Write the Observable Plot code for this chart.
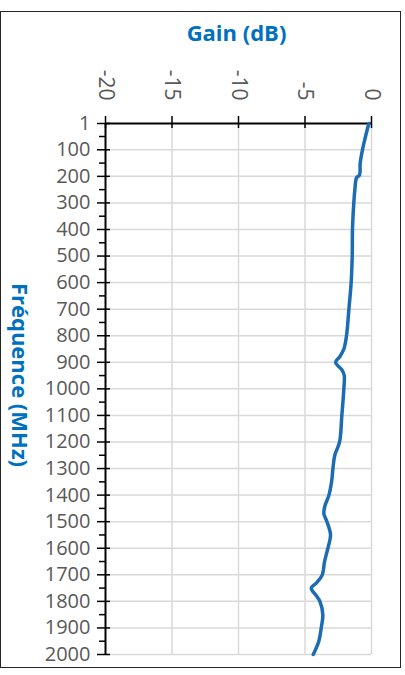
<!DOCTYPE html>
<html>
<head>
<meta charset="utf-8">
<script src="https://cdn.jsdelivr.net/npm/d3@7"></script>
<script src="https://cdn.jsdelivr.net/npm/@observablehq/plot@0.6"></script>
<style>
  html, body { margin: 0; padding: 0; background: #fff; }
  #wrap { position: relative; width: 405px; height: 675px; }
  #border { position: absolute; left: 0; top: 11px; width: 401px; height: 657px;
            border: 1.5px solid #262626; box-sizing: border-box; pointer-events: none; }
</style>
</head>
<body>
<div id="wrap"><div id="border"></div></div>
<script>
// Data
const freq = [1, 50, 100, 150, 195, 205, 250, 300, 400, 500, 600, 700, 800, 850, 880, 900, 930, 950,
              1000, 1100, 1200, 1250, 1300, 1350, 1400, 1440, 1470, 1500, 1550, 1600, 1650, 1700,
              1730, 1750, 1780, 1800, 1850, 1900, 1950, 2000];
const gain = [-0.2, -0.45, -0.68, -0.85, -0.9, -1.12, -1.25, -1.33, -1.43, -1.45, -1.53, -1.7, -1.88,
              -2.08, -2.4, -2.7, -2.2, -2.05, -2.08, -2.23, -2.4, -2.76, -2.9, -3.0, -3.2, -3.5,
              -3.58, -3.35, -3.08, -3.28, -3.53, -3.7, -4.13, -4.53, -4.13, -3.88, -3.66, -3.78,
              -3.96, -4.38];
const xTicks = [-20, -15, -10, -5, 0];
const yTicks = [1, 100, 200, 300, 400, 500, 600, 700, 800, 900, 1000, 1100, 1200, 1300, 1400,
                1500, 1600, 1700, 1800, 1900, 2000];
const yMinorTicks = [50, 150, 250, 350, 450, 550, 650, 750, 850, 950, 1050, 1150, 1250, 1350,
                     1450, 1550, 1650, 1750, 1850, 1950];
const yGrid = yTicks.slice(1);
const xTitle = "Gain (dB)";
const yTitle = "Fréquence (MHz)";

const rows = freq.map((f, i) => ({freq: f, gain: gain[i]}));
const blue = "#0070c0";
const gray = "#595959";
const grid = "#d9d9d9";

const chart = Plot.plot({
  width: 405,
  height: 675,
  marginLeft: 105,
  marginRight: 34,
  marginTop: 123,
  marginBottom: 21,
  style: {fontFamily: "'Open Sans', sans-serif", background: "transparent"},
  x: {domain: [-20, 0]},
  y: {domain: [1, 2000], reverse: true},
  marks: [
    Plot.gridX(xTicks.slice(1), {stroke: grid, strokeOpacity: 1, strokeWidth: 1.5}),
    Plot.gridY(yGrid, {stroke: grid, strokeOpacity: 1, strokeWidth: 1.5}),
    // axis lines
    Plot.ruleX([-20], {stroke: "#000", strokeWidth: 2}),
    Plot.ruleY([1], {stroke: "#000", strokeWidth: 2}),
    // tick marks
    Plot.axisX(xTicks, {anchor: "top", tickSize: 12, dy: 4, stroke: "#000", strokeWidth: 1.5,
                        tickFormat: () => "", label: null}),
    Plot.axisY(yTicks, {anchor: "left", tickSize: 13, dx: 5, stroke: "#000", strokeWidth: 1.5,
                        tickFormat: () => "", label: null}),
    Plot.axisY(yMinorTicks, {anchor: "left", tickSize: 6, stroke: "#000", strokeWidth: 1.5,
                             tickFormat: () => "", label: null}),
    // tick labels
    Plot.axisX(xTicks, {anchor: "top", tickSize: 0, tickPadding: 23, tickRotate: 90, stroke: "none",
                        fill: gray, fontSize: 21, tickFormat: d => String(d), label: null}),
    Plot.axisY(yTicks, {anchor: "left", tickSize: 0, tickPadding: 15, stroke: "none",
                        fill: gray, fontSize: 20, tickFormat: d => String(d), label: null}),
    // axis titles
    Plot.text([xTitle], {text: d => d, frameAnchor: "top", textAnchor: "middle", lineAnchor: "middle",
                         dx: -2, dy: -90, fontSize: 22, fontWeight: "bold", fill: blue}),
    Plot.text([yTitle], {text: d => d, frameAnchor: "left", textAnchor: "middle", lineAnchor: "middle",
                         rotate: 90, dx: -86, dy: -14, fontSize: 22, fontWeight: "bold", fill: blue}),
    // data line
    Plot.line(rows, {x: "gain", y: "freq", stroke: "#1b6cb3", strokeWidth: 3.5, curve: "catmull-rom"})
  ]
});
document.getElementById("wrap").prepend(chart);
</script>
</body>
</html>
